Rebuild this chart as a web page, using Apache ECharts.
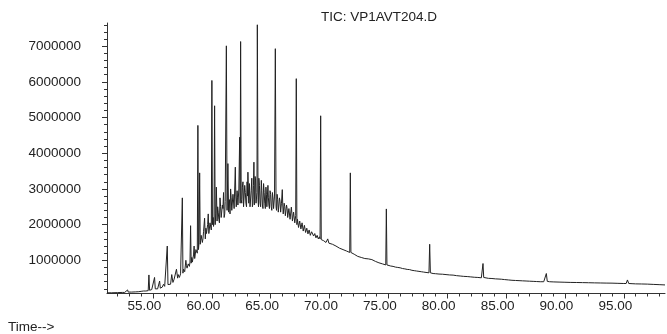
<!DOCTYPE html>
<html>
<head>
<meta charset="utf-8">
<script src="https://cdn.jsdelivr.net/npm/echarts@6/dist/echarts.min.js"></script>
<style>
html,body{margin:0;padding:0;background:#fff;}
#chart{width:667px;height:334px;}
</style>
</head>
<body>
<div id="chart"></div>
<script>
// Chromatogram: [retention time (min), abundance]
var ticEarly = [
  [51.1,0.09e6],[51.5,0.09e6],[52.0,0.095e6],[52.4,0.1e6],[52.6,0.1e6],[52.7,0.15e6],[52.75,0.1e6],[52.85,0.17e6],[52.9,0.11e6],
  [53.2,0.11e6],[53.5,0.115e6],[53.8,0.12e6],[54.0,0.13e6],[54.2,0.14e6],[54.4,0.14e6],[54.6,0.15e6],[54.66,0.59e6],[54.72,0.16e6],
  [54.9,0.18e6],[55.0,0.17e6],[55.14,0.52e6],[55.2,0.2e6],[55.3,0.22e6],[55.4,0.2e6],[55.5,0.24e6],[55.57,0.42e6],[55.63,0.22e6],
  [55.7,0.26e6],[55.8,0.25e6],[55.9,0.33e6],[56.0,0.27e6],[56.1,0.31e6],[56.16,0.29e6],[56.22,1.40e6],[56.28,0.32e6],[56.4,0.36e6],[56.5,0.33e6]
];
var ticHump = [
  [56.6,0.6e6],[56.7,0.38e6],[56.8,0.47e6],[56.9,0.43e6],[57.0,0.75e6],[57.1,0.5e6],[57.2,0.58e6],[57.3,0.53e6],[57.4,0.66e6],[57.45,0.6e6],
  [57.5,2.75e6],[57.55,0.64e6],[57.6,0.75e6],[57.7,0.68e6],[57.8,1.0e6],[57.9,0.78e6],[58.0,0.9e6],[58.1,0.83e6],[58.15,0.95e6],[58.2,1.97e6],
  [58.25,0.92e6],[58.3,1.08e6],[58.4,0.98e6],[58.5,1.4e6],[58.6,1.1e6],[58.7,1.25e6],[58.77,1.2e6],[58.82,4.78e6],[58.87,1.3e6],[58.92,1.5e6],
  [58.97,3.45e6],[59.02,1.45e6],[59.1,1.7e6],[59.2,1.5e6],[59.3,1.8e6],[59.39,2.18e6],[59.45,1.6e6],[59.5,1.9e6],[59.6,1.7e6],[59.7,2.3e6],
  [59.8,1.8e6],[59.9,2.1e6],[59.96,1.85e6],[60.01,6.04e6],[60.06,2.0e6],[60.12,2.2e6],[60.19,2.1e6],[60.24,5.33e6],[60.29,2.0e6],[60.34,2.3e6],
  [60.39,3.05e6],[60.45,2.1e6],[60.5,2.5e6],[60.6,2.15e6],[60.7,2.75e6],[60.8,2.2e6],[60.9,2.55e6],[61.0,2.9e6],[61.1,2.3e6],[61.18,2.6e6],
  [61.24,7.01e6],[61.3,2.4e6],[61.37,3.71e6],[61.43,2.35e6],[61.5,2.7e6],[61.6,3.0e6],[61.7,2.4e6],[61.8,2.85e6],[61.9,2.45e6],[62.0,3.61e6],
  [62.08,2.5e6],[62.15,2.95e6],[62.22,2.55e6],[62.3,3.0e6],[62.37,4.45e6],[62.41,2.6e6],[62.45,7.13e6],[62.5,2.7e6],[62.6,3.05e6],[62.7,2.5e6],
  [62.8,3.1e6],[62.9,2.6e6],[63.0,3.2e6],[63.07,3.47e6],[63.14,2.6e6],[63.2,3.15e6],[63.3,2.55e6],[63.4,3.3e6],[63.5,2.6e6],[63.58,3.75e6],
  [63.65,2.7e6],[63.72,3.25e6],[63.8,2.55e6],[63.87,7.6e6],[63.93,2.7e6],[64.0,3.3e6],[64.1,2.6e6],[64.21,3.24e6],[64.3,2.55e6],[64.4,3.15e6],
  [64.5,2.6e6],[64.6,3.05e6],[64.68,2.5e6],[64.77,3.1e6],[64.85,2.55e6],[64.95,2.95e6],[65.05,2.5e6],[65.15,2.9e6],[65.25,2.45e6],[65.33,2.8e6],
  [65.4,6.93e6],[65.46,2.5e6],[65.55,2.85e6],[65.65,2.35e6],[65.75,2.75e6],[65.85,2.35e6],[65.92,2.6e6],[65.99,2.98e6],[66.07,2.3e6],[66.15,2.6e6],
  [66.25,2.25e6],[66.35,2.55e6],[66.45,2.2e6],[66.55,2.45e6],[66.65,2.15e6],[66.76,2.49e6],[66.85,2.1e6],[66.95,2.35e6],[67.05,2.05e6],[67.13,2.25e6],
  [67.18,6.09e6],[67.23,2.0e6],[67.32,2.2e6],[67.42,1.95e6],[67.52,2.15e6],[67.62,1.9e6],[67.72,2.1e6],[67.82,1.85e6],[67.92,2.0e6],[68.02,1.8e6],
  [68.12,1.95e6],[68.22,1.75e6],[68.32,1.9e6],[68.42,1.72e6]
];
// extra noise points of the dense hump, read between the ones above
var ticHumpNoise = [
  [57.15,0.6e6],[57.25,0.52e6],[57.35,0.62e6],[57.65,0.8e6],[57.75,0.7e6],[57.85,0.85e6],[57.95,0.8e6],[58.05,0.95e6],[58.35,0.95e6],[58.45,1.15e6],
  [58.55,1.05e6],[58.65,1.3e6],[59.05,1.55e6],[59.15,1.75e6],[59.25,1.6e6],[59.35,1.85e6],[59.55,1.75e6],[59.65,2.0e6],[59.75,1.75e6],[59.85,2.05e6],
  [60.15,1.95e6],[60.55,2.35e6],[60.65,2.05e6],[60.75,2.5e6],[60.85,2.15e6],[60.95,2.45e6],[61.05,2.2e6],[61.14,2.65e6],[61.55,2.3e6],[61.65,2.75e6],
  [61.75,2.35e6],[61.85,2.9e6],[61.95,2.4e6],[62.04,2.8e6],[62.12,2.45e6],[62.19,2.75e6],[62.26,2.5e6],[62.55,2.6e6],[62.65,3.2e6],[62.75,2.55e6],
  [62.85,2.9e6],[62.95,2.5e6],[63.04,2.8e6],[63.25,2.5e6],[63.35,2.95e6],[63.45,2.5e6],[63.54,3.1e6],[63.62,2.55e6],[63.68,3.35e6],[63.76,2.6e6],
  [63.84,2.9e6],[63.97,2.5e6],[64.05,3.1e6],[64.15,2.5e6],[64.25,2.95e6],[64.35,2.45e6],[64.45,2.9e6],[64.55,2.45e6],[64.64,2.85e6],[64.72,2.45e6],
  [64.81,2.75e6],[64.9,2.45e6],[65.0,2.85e6],[65.1,2.4e6],[65.2,2.75e6],[65.29,2.4e6],[65.5,2.4e6],[65.6,2.7e6],[65.7,2.3e6],[65.8,2.65e6],
  [65.88,2.3e6],[66.03,2.55e6],[66.11,2.25e6],[66.2,2.5e6],[66.3,2.2e6],[66.4,2.45e6],[66.5,2.15e6],[66.6,2.4e6],[66.7,2.1e6],[66.81,2.3e6],
  [66.9,2.05e6],[67.0,2.3e6],[67.09,2.0e6],[67.28,2.15e6],[67.37,1.92e6],[67.47,2.1e6],[67.57,1.88e6],[67.67,2.05e6],[67.77,1.82e6],[67.87,1.98e6],
  [67.97,1.78e6],[68.07,1.9e6],[68.17,1.74e6],[68.27,1.85e6],[68.37,1.7e6],[68.48,1.8e6]
];
var ticTail = [
  [68.55,1.82e6],[68.65,1.68e6],[68.75,1.75e6],[68.85,1.63e6],[68.95,1.7e6],[69.05,1.6e6],[69.15,1.66e6],[69.2,1.6e6],[69.25,5.05e6],[69.3,1.58e6],
  [69.4,1.62e6],[69.5,1.55e6],[69.6,1.58e6],[69.7,1.5e6],[69.85,1.6e6],[69.95,1.48e6],[70.1,1.52e6],[70.25,1.45e6],[70.4,1.44e6],[70.55,1.4e6],
  [70.7,1.38e6],[70.85,1.34e6],[71.0,1.35e6],[71.15,1.3e6],[71.3,1.29e6],[71.45,1.26e6],[71.6,1.25e6],[71.72,1.22e6],[71.77,3.45e6],[71.82,1.22e6],
  [71.95,1.2e6],[72.1,1.17e6],[72.25,1.15e6],[72.4,1.11e6],[72.55,1.1e6],[72.7,1.08e6],[72.85,1.07e6],[73.0,1.05e6],[73.15,1.03e6],[73.3,1.04e6],
  [73.45,1.08e6],[73.6,1.02e6],[73.75,0.98e6],[73.9,0.97e6],[74.05,0.94e6],[74.2,0.93e6],[74.35,0.91e6],[74.5,0.9e6],[74.65,0.88e6],[74.78,0.87e6],
  [74.83,2.44e6],[74.88,0.87e6],[75.0,0.86e6],[75.2,0.84e6],[75.4,0.83e6],[75.6,0.81e6],[75.8,0.8e6],[76.0,0.79e6],[76.2,0.77e6],[76.4,0.76e6],
  [76.6,0.745e6],[76.8,0.74e6],[77.0,0.72e6],[77.2,0.71e6],[77.4,0.7e6],[77.6,0.69e6],[77.8,0.68e6],[78.0,0.67e6],[78.2,0.66e6],[78.45,0.65e6],
  [78.51,1.45e6],[78.57,0.65e6],[78.8,0.63e6],[79.0,0.625e6],[79.3,0.615e6],[79.6,0.61e6],[79.9,0.6e6],[80.2,0.59e6],[80.5,0.585e6],[80.8,0.57e6],
  [81.1,0.56e6],[81.4,0.55e6],[81.7,0.545e6],[82.0,0.535e6],[82.3,0.525e6],[82.6,0.52e6],[82.9,0.51e6],[82.98,0.5e6],[83.04,0.91e6],[83.1,0.52e6],
  [83.25,0.5e6],[83.5,0.495e6],[83.8,0.49e6],[84.1,0.48e6],[84.4,0.475e6],[84.6,0.47e6],[84.74,0.49e6],[84.88,0.46e6],[85.2,0.45e6],[85.5,0.44e6],
  [85.8,0.435e6],[86.1,0.43e6],[86.4,0.425e6],[86.7,0.42e6],[87.0,0.415e6],[87.3,0.41e6],[87.6,0.405e6],[87.9,0.4e6],[88.2,0.4e6],[88.34,0.4e6],
  [88.42,0.63e6],[88.5,0.41e6],[88.7,0.4e6],[89.0,0.395e6],[89.5,0.39e6],[90.0,0.385e6],[90.5,0.38e6],[91.0,0.378e6],[91.5,0.375e6],[92.0,0.372e6],
  [92.5,0.368e6],[93.0,0.365e6],[93.5,0.362e6],[94.0,0.36e6],[94.5,0.355e6],[95.0,0.35e6],[95.2,0.35e6],[95.31,0.45e6],[95.42,0.35e6],[95.7,0.345e6],
  [96.0,0.34e6],[96.5,0.337e6],[97.0,0.333e6],[97.5,0.325e6],[98.0,0.318e6],[98.5,0.31e6]
];

var xMajorTicks = [55, 60, 65, 70, 75, 80, 85, 90, 95];
var xTickLabels = ['55.00', '60.00', '65.00', '70.00', '75.00', '80.00', '85.00', '90.00', '95.00'];
var xMinorTicks = [52,53,54,55,56,57,58,59,60,61,62,63,64,65,66,67,68,69,70,71,72,73,74,75,76,77,78,79,80,81,82,83,84,85,86,87,88,89,90,91,92,93,94,95,96,97,98];
var yMajorTicks = [1000000, 2000000, 3000000, 4000000, 5000000, 6000000, 7000000];
var yTickLabels = ['1000000', '2000000', '3000000', '4000000', '5000000', '6000000', '7000000'];
var yMinorTicks = [200000,400000,600000,800000,1000000,1200000,1400000,1600000,1800000,2000000,2200000,2400000,2600000,2800000,3000000,3200000,3400000,3600000,3800000,4000000,4200000,4400000,4600000,4800000,5000000,5200000,5400000,5600000,5800000,6000000,6200000,6400000,6600000,6800000,7000000,7200000,7400000,7600000];

var titleText = 'TIC: VP1AVT204.D';
var xName = 'Time-->';

var FONT = '"Liberation Sans", Arial, sans-serif';
var TXT = '#222';
var AX = '#333';
var X_MIN = 51.1, X_MAX = 98.5, Y_MIN = 70000, Y_MAX = 7650000;

var signal = ticEarly.concat(ticHump, ticHumpNoise, ticTail).sort(function (a, b) { return a[0] - b[0]; });

var chart = echarts.init(document.getElementById('chart'), null, {renderer: 'canvas'});
chart.setOption({
  animation: false,
  backgroundColor: '#fff',
  title: {
    text: titleText, left: 321, top: 10, padding: 0,
    textStyle: {fontSize: 13.5, fontWeight: 'normal', color: TXT, fontFamily: FONT}
  },
  graphic: [{
    type: 'text', left: 8, top: 320,
    style: {text: xName, font: '13.5px ' + FONT, fill: TXT}
  }],
  grid: {left: 107, right: 2, top: 23, bottom: 40.5, containLabel: false, outerBoundsMode: 'none'},
  xAxis: [{
    type: 'value', min: X_MIN, max: X_MAX, position: 'bottom',
    axisLine: {show: true, lineStyle: {color: AX, width: 1}},
    axisTick: {show: true, customValues: xMajorTicks, length: 5, lineStyle: {color: AX}},
    axisLabel: {
      show: true, customValues: xMajorTicks, margin: 6, padding: [0, 17, 0, 0],
      fontSize: 13.5, color: TXT, fontFamily: FONT,
      formatter: function (v) { var i = xMajorTicks.indexOf(v); return i >= 0 ? xTickLabels[i] : ''; }
    },
    splitLine: {show: false}
  }, {
    type: 'value', min: X_MIN, max: X_MAX, position: 'bottom',
    axisLine: {show: false},
    axisTick: {show: true, customValues: xMinorTicks, length: 3, lineStyle: {color: AX}},
    axisLabel: {show: false},
    splitLine: {show: false}
  }],
  yAxis: [{
    type: 'value', min: Y_MIN, max: Y_MAX, position: 'left',
    axisLine: {show: true, lineStyle: {color: AX, width: 1}},
    axisTick: {show: true, customValues: yMajorTicks, length: 5, lineStyle: {color: AX}},
    axisLabel: {
      show: true, customValues: yMajorTicks, margin: 26,
      fontSize: 13.5, color: TXT, fontFamily: FONT,
      formatter: function (v) { var i = yMajorTicks.indexOf(v); return i >= 0 ? yTickLabels[i] : ''; }
    },
    splitLine: {show: false}
  }, {
    type: 'value', min: Y_MIN, max: Y_MAX, position: 'left',
    axisLine: {show: false},
    axisTick: {show: true, customValues: yMinorTicks, length: 3, lineStyle: {color: AX}},
    axisLabel: {show: false},
    splitLine: {show: false}
  }],
  series: [{
    type: 'line',
    xAxisIndex: 0, yAxisIndex: 0,
    data: signal,
    showSymbol: false, symbol: 'none', sampling: null,
    lineStyle: {color: '#222', width: 1},
    clip: true
  }]
});
</script>
</body>
</html>
